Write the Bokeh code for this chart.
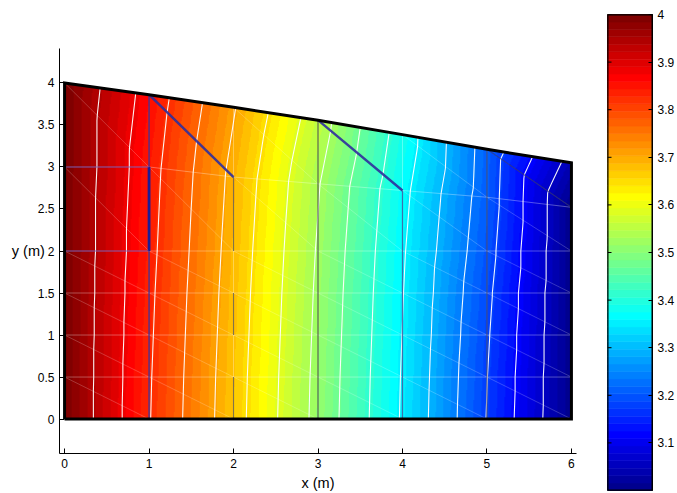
import numpy as np
from bokeh.plotting import figure
from bokeh.layouts import row
from bokeh.models import Range1d, FixedTicker, NumeralTickFormatter, LinearColorMapper
from bokeh.embed import file_html
from bokeh.resources import INLINE

# ---------------- data ----------------
x_nodes = [0, 1, 2, 3, 4, 5, 6]                      # mesh columns (m)
y_rows_fixed = [0.0, 0.5, 1.0, 1.5, 2.0]             # straight mesh rows (m)
y_mid = [3.00, 3.00, 2.88, 2.80, 2.72, 2.64, 2.52]   # upper mesh row (m)
y_top = [4.00, 3.86, 3.71, 3.557, 3.385, 3.21, 3.05] # free surface (m)

# hydraulic head at the mesh nodes (rows bottom -> top, columns x = 0..6)
head_y00 = [4.000, 3.827, 3.671, 3.512, 3.347, 3.174, 3.000]
head_y05 = [4.000, 3.829, 3.673, 3.514, 3.349, 3.177, 3.000]
head_y10 = [4.000, 3.832, 3.676, 3.517, 3.352, 3.182, 3.000]
head_y15 = [4.000, 3.835, 3.679, 3.520, 3.355, 3.188, 3.000]
head_y20 = [4.000, 3.839, 3.683, 3.524, 3.359, 3.197, 3.000]
head_mid = [4.000, 3.846, 3.691, 3.533, 3.368, 3.206, 3.000]
head_top = [4.000, 3.860, 3.710, 3.557, 3.385, 3.210, 3.040]

contour_levels = [3.059, 3.118, 3.176, 3.235, 3.294, 3.353, 3.412, 3.471,
                  3.529, 3.588, 3.647, 3.706, 3.765, 3.824, 3.882, 3.941]

head_min, head_max = 3.0, 4.0
x_ticks = [0, 1, 2, 3, 4, 5, 6]
y_ticks = [0, 0.5, 1, 1.5, 2, 2.5, 3, 3.5, 4]
cbar_ticks = [3.1, 3.2, 3.3, 3.4, 3.5, 3.6, 3.7, 3.8, 3.9, 4.0]

# highlighted mesh edges: (column, from row, to row)
vert_navy_thin = [(1, 0, 4), (1, 5, 6)]
vert_navy_thick = [(1, 4, 5)]
vert_gray = [(2, 0, 1), (2, 2, 3), (2, 4, 5)]
vert_dark = [(3, 0, 6)]
vert_bluegray = [(4, 0, 5)]
vert_darkblue = [(5, 0, 6)]
horiz_purple = [(4, 0, 1), (5, 0, 1)]   # (row, from col, to col)
diag_thick = [(1, 5), (3, 5)]           # (element column, element row)
diag_dark = [(5, 5)]

# ---------------- colormap (MATLAB jet, 64) ----------------
def jet(N=64):
    q = int(np.ceil(N / 4))
    u = np.concatenate([np.arange(1, q + 1) / q, np.ones(q - 1), np.arange(q, 0, -1) / q])
    g = int(np.ceil(q / 2)) - (1 if N % 4 == 1 else 0) + np.arange(1, len(u) + 1)
    r = g + q
    b = g - q
    J = np.zeros((N, 3))
    rr = r[r <= N]; J[rr - 1, 0] = u[:len(rr)]
    gg = g[g <= N]; J[gg - 1, 1] = u[:len(gg)]
    bb = b[b >= 1]; J[bb - 1, 2] = u[len(u) - len(bb):]
    return ["#%02x%02x%02x" % tuple(int(round(c * 255)) for c in rgb) for rgb in J]

JET = jet(64)

# ---------------- node arrays ----------------
X = np.array(x_nodes, float)
Y = np.array([[yv] * len(x_nodes) for yv in y_rows_fixed] + [y_mid, y_top], float)
H = np.array([head_y00, head_y05, head_y10, head_y15, head_y20, head_mid, head_top], float)
nrow, ncol = Y.shape

def head_at(xq, yq):
    """Linear-triangle interpolation of the nodal heads (diagonal UL -> LR)."""
    i = np.clip(np.floor((xq - X[0]) / (X[1] - X[0])).astype(int), 0, ncol - 2)
    u = (xq - X[i]) / (X[i + 1] - X[i])
    rows = np.stack([Y[k, i] + u * (Y[k, i + 1] - Y[k, i]) for k in range(nrow)])
    j = np.clip((rows[1:nrow - 1] <= yq).sum(axis=0), 0, nrow - 2)
    yb = np.take_along_axis(rows, j[None], 0)[0]
    yt = np.take_along_axis(rows, (j + 1)[None], 0)[0]
    v = (yq - yb) / (yt - yb)
    zLL, zLR, zUL, zUR = H[j, i], H[j, i + 1], H[j + 1, i], H[j + 1, i + 1]
    zA = zLL + u * (zLR - zLL) + v * (zUL - zLL)
    zB = zUR + (1 - u) * (zUL - zUR) + (1 - v) * (zLR - zUR)
    z = np.where(u + v <= 1 + 1e-12, zA, zB)
    return np.where((yq >= 0) & (yq <= rows[-1]), z, np.nan)

# raster of the head field (about 1.5 samples per screen pixel)
NXp, NYp = 762, 508
xs_c = X[0] + (np.arange(NXp) + 0.5) / NXp * (X[-1] - X[0])
ys_c = (np.arange(NYp) + 0.5) / NYp * 4.0
XG, YG = np.meshgrid(xs_c, ys_c)
ZG = head_at(XG, YG).astype(np.float32)

# structured grid for the contour lines
n = 12
NX = (ncol - 1) * n + 1
NY = (nrow - 1) * n + 1
XF = np.zeros((NY, NX)); YF = np.zeros((NY, NX)); ZF = np.zeros((NY, NX))
uu = np.linspace(0, 1, n + 1)
U, V = np.meshgrid(uu, uu)
for j in range(nrow - 1):
    for i in range(ncol - 1):
        yb = Y[j, i] + U * (Y[j, i + 1] - Y[j, i])
        yt = Y[j + 1, i] + U * (Y[j + 1, i + 1] - Y[j + 1, i])
        xs = X[i] + U * (X[i + 1] - X[i])
        ys = yb + V * (yt - yb)
        zLL, zLR, zUL, zUR = H[j, i], H[j, i + 1], H[j + 1, i], H[j + 1, i + 1]
        zA = zLL + U * (zLR - zLL) + V * (zUL - zLL)
        zB = zUR + (1 - U) * (zUL - zUR) + (1 - V) * (zLR - zUR)
        zs = np.where(U + V <= 1 + 1e-12, zA, zB)
        sl = (slice(j * n, (j + 1) * n + 1), slice(i * n, (i + 1) * n + 1))
        XF[sl] = xs; YF[sl] = ys; ZF[sl] = zs

FONT = "Liberation Sans"

# ---------------- main figure ----------------
p = figure(width=586, height=493, x_range=Range1d(-0.06, 6.06), y_range=Range1d(-0.41, 4.41),
           output_backend="svg", toolbar_location=None,
           min_border_left=59, min_border_right=10, min_border_top=48, min_border_bottom=37)
p.outline_line_color = None
p.grid.visible = False
try:
    p.frame_align = False
except Exception:
    pass

mapper = LinearColorMapper(palette=JET, low=head_min, high=head_max, nan_color="rgba(0,0,0,0)")
p.image(image=[ZG], x=X[0], y=0, dw=X[-1] - X[0], dh=4.0, color_mapper=mapper)

# mesh (light)
mx, my = [], []
for j in range(1, nrow - 1):
    mx.append(list(X)); my.append(list(Y[j]))
for i in range(1, ncol - 1):
    mx.append([X[i]] * nrow); my.append(list(Y[:, i]))
p.multi_line(mx, my, line_color="white", line_alpha=0.4, line_width=0.8)
dx, dy = [], []
for j in range(nrow - 1):
    for i in range(ncol - 1):
        dx.append([X[i], X[i + 1]]); dy.append([Y[j + 1, i], Y[j, i + 1]])
p.multi_line(dx, dy, line_color="white", line_alpha=0.3, line_width=0.7)

# contour lines
p.contour(x=XF, y=YF, z=ZF, levels=contour_levels, line_color="white", line_width=1.1, line_alpha=0.95)

def vsegs(lst):
    return [[X[c], X[c]] for c, a, b in lst], [[Y[a, c], Y[b, c]] for c, a, b in lst]

for lst, col, w, a in [(vert_navy_thin, "#1c1c96", 1.3, 0.85), (vert_navy_thick, "#1c1c96", 2.8, 1.0),
                       (vert_gray, "#4a4a4a", 1.1, 0.7), (vert_dark, "#333333", 1.2, 0.75),
                       (vert_bluegray, "#3b4c9a", 1.2, 0.8), (vert_darkblue, "#202040", 1.2, 0.6)]:
    xs_, ys_ = vsegs(lst)
    p.multi_line(xs_, ys_, line_color=col, line_width=w, line_alpha=a)

hx = [[X[a], X[b]] for r, a, b in horiz_purple]
hy = [[Y[r, a], Y[r, b]] for r, a, b in horiz_purple]
p.multi_line(hx, hy, line_color="#5a3fb0", line_width=1.2, line_alpha=0.75)

tx = [[X[i], X[i + 1]] for i, j in diag_thick]
ty = [[Y[j + 1, i], Y[j, i + 1]] for i, j in diag_thick]
p.multi_line(tx, ty, line_color="#2e2e9c", line_width=2.4, line_alpha=0.9)
kx = [[X[i], X[i + 1]] for i, j in diag_dark]
ky = [[Y[j + 1, i], Y[j, i + 1]] for i, j in diag_dark]
p.multi_line(kx, ky, line_color="#202060", line_width=1.2, line_alpha=0.6)

# domain boundary
bx = [X[0], X[-1]] + list(X[::-1]) + [X[0]]
by = [Y[0, 0], Y[0, -1]] + list(Y[-1, ::-1]) + [Y[0, 0]]
p.line(bx, by, line_color="black", line_width=3, line_join="miter")

for ax, ticks in [(p.xaxis, x_ticks), (p.yaxis, y_ticks)]:
    ax.ticker = FixedTicker(ticks=ticks)
    ax.formatter = NumeralTickFormatter(format="0.[0]")
    ax.major_tick_in = 5
    ax.major_tick_out = 0
    ax.minor_tick_in = 0
    ax.minor_tick_out = 0
    ax.axis_line_color = "black"
    ax.major_tick_line_color = "black"
    ax.major_label_text_font = FONT
    ax.major_label_text_font_size = "12px"
    ax.major_label_text_color = "black"
    ax.major_label_standoff = 5
    ax.axis_label_text_font = FONT
    ax.axis_label_text_font_size = "14.5px"
    ax.axis_label_text_font_style = "normal"
    ax.axis_label_text_color = "black"
p.xaxis.axis_label = "x (m)"
p.xaxis.axis_label_standoff = 4
p.yaxis.axis_label = "y (m)"
try:
    p.yaxis.axis_label_orientation = "horizontal"
    p.yaxis.axis_label_standoff = -10
except Exception:
    p.yaxis.axis_label_standoff = 2

# ---------------- colour bar ----------------
cb = figure(width=91, height=493, x_range=Range1d(0, 1), y_range=Range1d(head_min, head_max),
            output_backend="svg", toolbar_location=None, x_axis_type=None, y_axis_location="right",
            min_border_left=21, min_border_right=5, min_border_top=14, min_border_bottom=3)
try:
    cb.frame_align = False
except Exception:
    pass
cb.grid.visible = False
cb.outline_line_color = "black"
cb.outline_line_width = 1
step = (head_max - head_min) / len(JET)
cb.quad(left=0, right=1, bottom=[head_min + k * step for k in range(len(JET))],
        top=[head_min + (k + 1) * step for k in range(len(JET))], fill_color=JET,
        line_color=JET, line_width=0.6)
ra = cb.yaxis[0]
ra.ticker = FixedTicker(ticks=cbar_ticks)
ra.formatter = NumeralTickFormatter(format="0.[0]")
ra.major_tick_in = 4
ra.major_tick_out = 0
ra.minor_tick_in = 0
ra.minor_tick_out = 0
ra.axis_line_color = "black"
ra.major_label_text_font = FONT
ra.major_label_text_font_size = "12px"
ra.major_label_text_color = "black"
ra.major_label_standoff = 5
# inward ticks on the left edge of the bar
tick_len = 4.0 / 45.0
cb.segment(x0=0, x1=tick_len, y0=cbar_ticks, y1=cbar_ticks, line_color="black", line_width=1)
cb.segment(x0=0, x1=1, y0=head_min, y1=head_min, line_color="black", line_width=2)
cb.segment(x0=0, x1=1, y0=head_max, y1=head_max, line_color="black", line_width=2)
cb.segment(x0=0, x1=0, y0=head_min, y1=head_max, line_color="black", line_width=2)
cb.segment(x0=1, x1=1, y0=head_min, y1=head_max, line_color="black", line_width=2)

layout = row(p, cb)
open("out.html", "w").write(file_html(layout, INLINE))
